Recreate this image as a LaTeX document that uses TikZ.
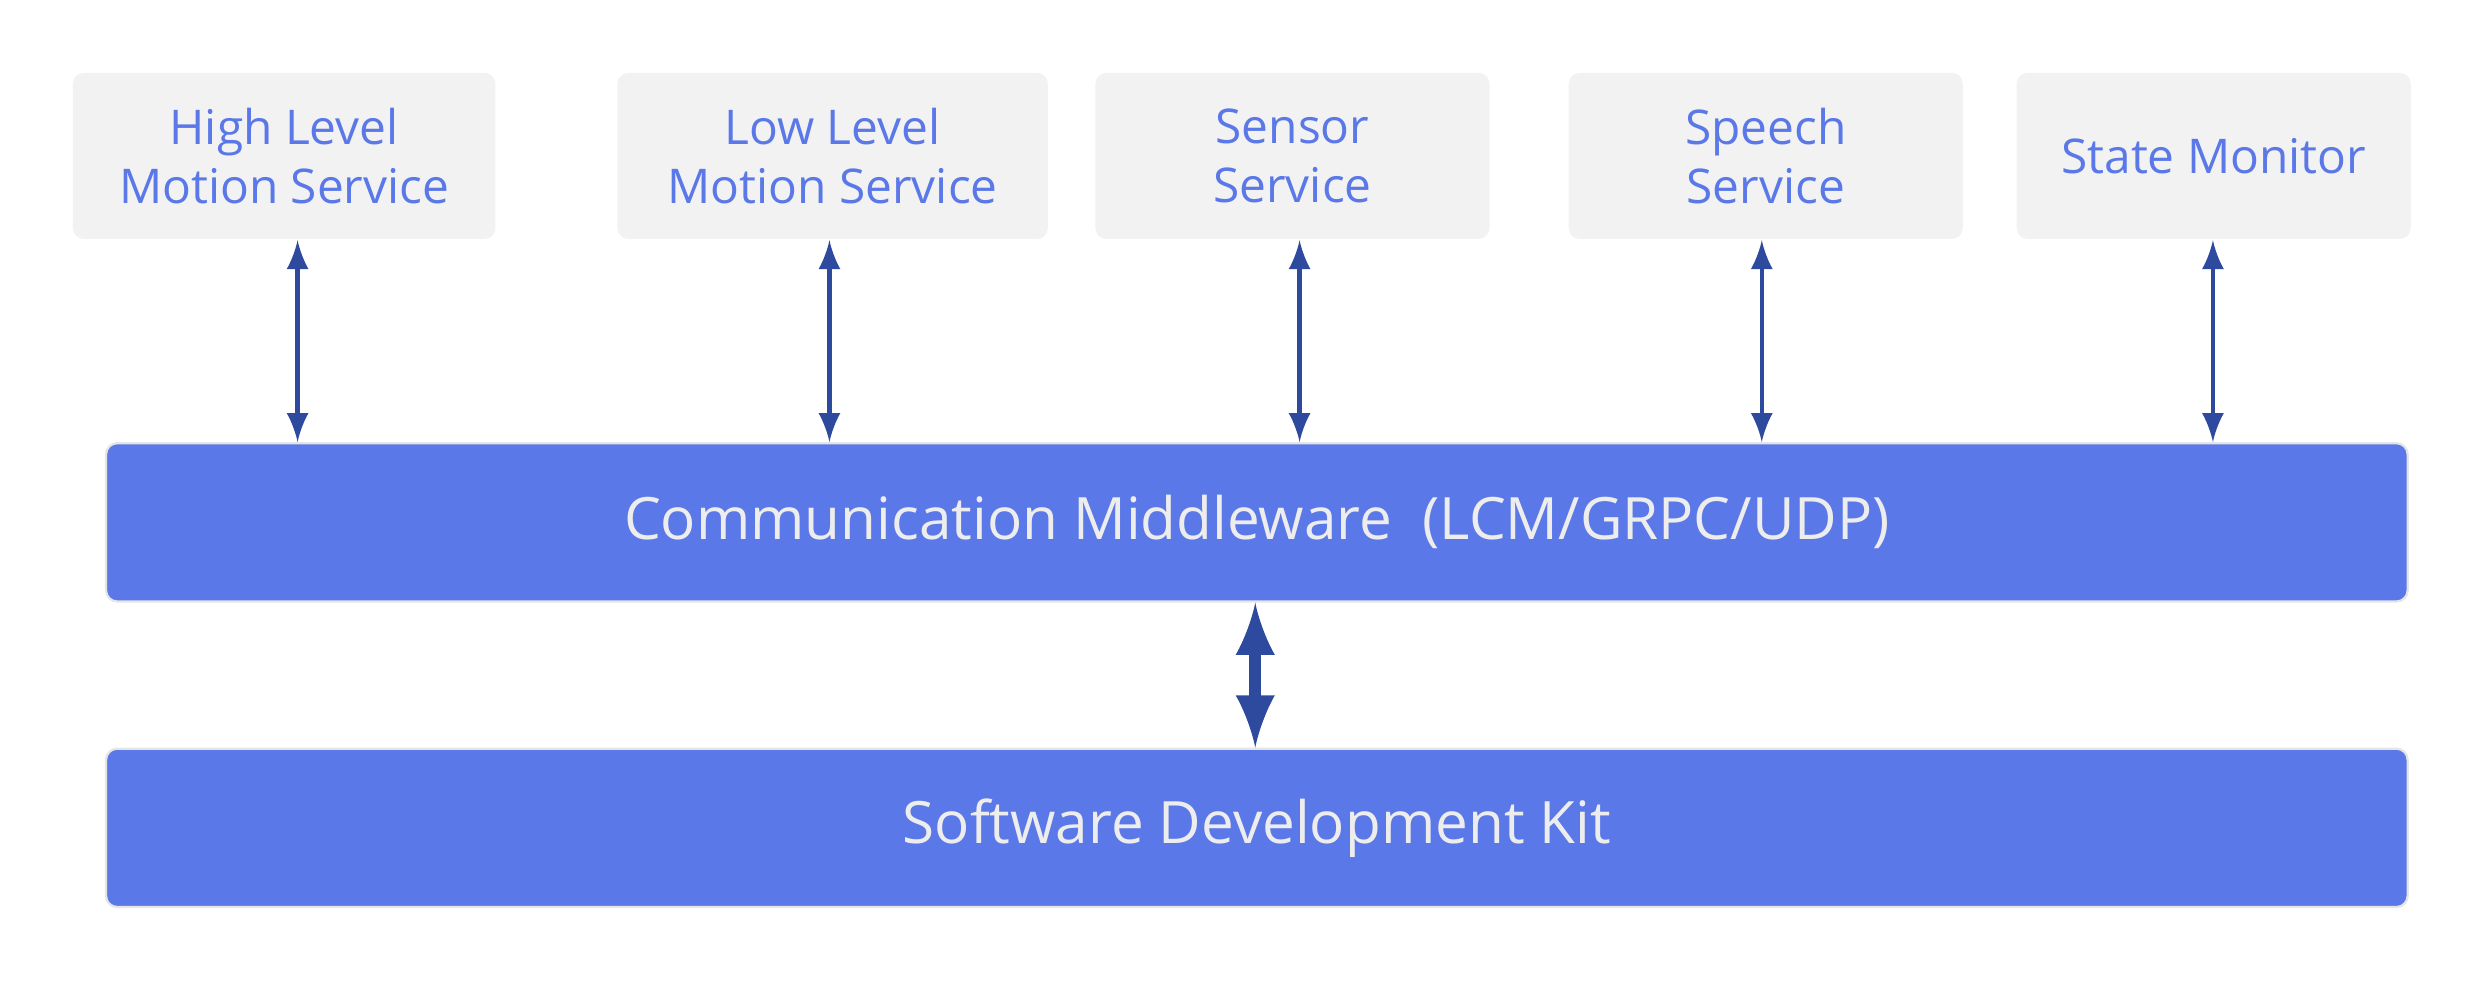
\documentclass[tikz,border=0pt]{standalone}
\usepackage{fontspec}
\setmainfont{Open Sans}
\definecolor{svcfill}{HTML}{F2F2F2}
\definecolor{svctext}{HTML}{5B78E8}
\definecolor{barfill}{HTML}{5B78E8}
\definecolor{arrowblue}{HTML}{2E4A9E}
\tikzset{
  service/.style={draw=none, fill=svcfill, rounded corners=2pt, minimum height=1.05cm,
    text=svctext, align=center, font=\fontsize{8.6}{10.6}\selectfont\bfseries\mdseries},
  bar/.style={draw=white!90!black, fill=barfill, rounded corners=2pt, minimum width=14.54cm,
    minimum height=1cm, text=white!93!black, font=\fontsize{10.5}{12}\selectfont},
  link/.style={<->, >=latex, draw=arrowblue, line width=0.8pt},
}
\begin{document}
\begin{tikzpicture}
  \useasboundingbox (0,0) rectangle (15.68,-6.22);
  % services
  \node[service, minimum width=2.67cm] (high) at (1.795,-0.985) {High Level\\Motion Service};
  \node[service, minimum width=2.72cm] (low) at (5.26,-0.985) {Low Level\\Motion Service};
  \node[service, minimum width=2.49cm] (sensor) at (8.165,-0.985) {Sensor\\Service};
  \node[service, minimum width=2.49cm] (speech) at (11.155,-0.985) {Speech\\Service};
  \node[service, minimum width=2.49cm] (state) at (13.985,-0.985) {State Monitor};
  % layers
  \node[bar] (middle) at (7.94,-3.3) {Communication Middleware\ \ (LCM/GRPC/UDP)};
  \node[bar] (sdk) at (7.94,-5.23) {Software Development Kit};
  % links
  \foreach \s/\x in {high/1.88, low/5.24, sensor/8.21, speech/11.13, state/13.98}
    \draw[link] (\s.south -| \x,0) -- (middle.north -| \x,0);
  \draw[link, line width=2.2pt] (middle.south -| 7.93,0) -- (sdk.north -| 7.93,0);
\end{tikzpicture}
\end{document}
